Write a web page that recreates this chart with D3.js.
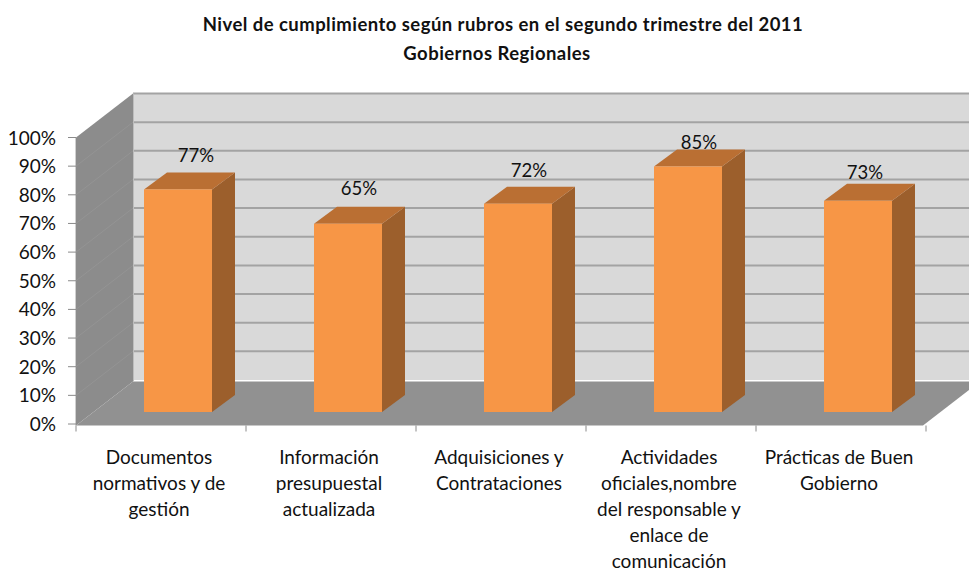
<!DOCTYPE html>
<html>
<head>
<meta charset="utf-8">
<script src="https://cdn.jsdelivr.net/npm/d3@7"></script>
<style>
  html, body { margin: 0; padding: 0; background: #fff; }
  svg { display: block; }
  text { font-family: Lato, "Open Sans", sans-serif; fill: #111; }
</style>
</head>
<body>
<div id="chart"></div>
<script>
const titleLines = ["Nivel de cumplimiento según rubros en el segundo trimestre del 2011", "Gobiernos Regionales"];
const categories = [
    ["Documentos", "normativos y de", "gestión"],
    ["Información", "presupuestal", "actualizada"],
    ["Adquisiciones y", "Contrataciones"],
    ["Actividades", "oficiales,nombre", "del responsable y", "enlace de", "comunicación"],
    ["Prácticas de Buen", "Gobierno"]
];
const values = [77, 65, 72, 85, 73];
const valueTicks = [0, 10, 20, 30, 40, 50, 60, 70, 80, 90, 100];

const width = 969;
const height = 571;

const svg = d3.select("#chart").append("svg")
    .attr("width", width)
    .attr("height", height)
    .attr("viewBox", [0, 0, width, height]);

// front plane of the 3d box
const x = d3.scaleBand()
    .domain(d3.range(categories.length))
    .range([76, 926])
    .paddingInner(0.6)
    .paddingOuter(0.3);
const y = d3.scaleLinear().domain([0, 100]).range([424, 137.5]);

// offset from the front plane to the back wall
const depthX = 57;
const depthY = -44;
// bars stand a bit inside the box
const barShiftX = 17;
const barShiftY = -12;
const barDepthX = 23;
const barDepthY = -17;

const xLeft = x.range()[0];
const xRight = x.range()[1] - 3;
const floorFront = y(0) + 1.5;
const floorBack = y(0) + depthY + 1.5;

// back wall
svg.append("rect")
    .attr("x", xLeft + depthX)
    .attr("y", y(100) + depthY)
    .attr("width", width - xLeft - depthX)
    .attr("height", y(0) - y(100))
    .attr("fill", "#d9d9d9");

// gridlines on the back wall
svg.append("g")
    .selectAll("line")
    .data(valueTicks.slice(1))
    .join("line")
    .attr("x1", xLeft + depthX)
    .attr("x2", width)
    .attr("y1", d => y(d) + depthY)
    .attr("y2", d => y(d) + depthY)
    .attr("stroke", "#a3a3a3")
    .attr("stroke-width", 2);

// left wall
svg.append("path")
    .attr("d", d3.line()([
        [xLeft, y(100)],
        [xLeft + depthX, y(100) + depthY],
        [xLeft + depthX, floorBack],
        [xLeft, floorFront]
    ]) + "Z")
    .attr("fill", "#8c8c8c");

// faint lines going across the left wall
svg.append("g")
    .selectAll("line")
    .data(valueTicks.slice(1, -1))
    .join("line")
    .attr("x1", xLeft)
    .attr("x2", xLeft + depthX)
    .attr("y1", d => y(d))
    .attr("y2", d => y(d) + depthY)
    .attr("stroke", "#949494")
    .attr("stroke-width", 1);

// floor
svg.append("path")
    .attr("d", d3.line()([
        [xLeft, floorFront],
        [xLeft + depthX, floorBack],
        [xRight + depthX, floorBack],
        [xRight, floorFront]
    ]) + "Z")
    .attr("fill", "#919191");

// light edge of the wall
svg.append("line")
    .attr("x1", xLeft + depthX + 0.5)
    .attr("x2", xLeft + depthX + 0.5)
    .attr("y1", y(100) + depthY)
    .attr("y2", floorBack)
    .attr("stroke", "#bdbdbd");

// value axis
svg.append("line")
    .attr("x1", xLeft - 0.5)
    .attr("x2", xLeft - 0.5)
    .attr("y1", y(100))
    .attr("y2", floorFront)
    .attr("stroke", "#d0d0d0");
svg.append("g")
    .selectAll("line")
    .data(valueTicks)
    .join("line")
    .attr("x1", xLeft - 8)
    .attr("x2", xLeft)
    .attr("y1", d => y(d))
    .attr("y2", d => y(d))
    .attr("stroke", "#8a8a8a");
svg.append("g")
    .selectAll("text")
    .data(valueTicks)
    .join("text")
    .attr("x", xLeft - 20)
    .attr("y", d => y(d) + 7)
    .attr("text-anchor", "end")
    .style("font-size", "19px")
    .text(d => d + "%");

// category axis ticks
const step = x.step();
svg.append("g")
    .selectAll("line")
    .data(d3.range(categories.length + 1))
    .join("line")
    .attr("x1", d => xLeft + d * step)
    .attr("x2", d => xLeft + d * step)
    .attr("y1", floorFront)
    .attr("y2", floorFront + 6)
    .attr("stroke", "#8a8a8a");

// bars
const bars = svg.append("g")
    .selectAll("g")
    .data(values)
    .join("g");

const barX = i => x(i) + barShiftX;
const barTop = d => y(d) + barShiftY - 2;
const barBottom = y(0) + barShiftY;

bars.append("path")
    .attr("fill", "#9c5f2c")
    .attr("d", (d, i) => d3.line()([
        [barX(i) + x.bandwidth(), barTop(d)],
        [barX(i) + x.bandwidth() + barDepthX, barTop(d) + barDepthY],
        [barX(i) + x.bandwidth() + barDepthX, barBottom + barDepthY],
        [barX(i) + x.bandwidth(), barBottom]
    ]) + "Z");

bars.append("path")
    .attr("fill", "#ba6f33")
    .attr("d", (d, i) => d3.line()([
        [barX(i), barTop(d)],
        [barX(i) + barDepthX, barTop(d) + barDepthY],
        [barX(i) + x.bandwidth() + barDepthX, barTop(d) + barDepthY],
        [barX(i) + x.bandwidth(), barTop(d)]
    ]) + "Z");

bars.append("rect")
    .attr("x", (d, i) => barX(i))
    .attr("y", d => barTop(d))
    .attr("width", x.bandwidth())
    .attr("height", d => barBottom - barTop(d))
    .attr("fill", "#f79646");

// value labels, these were moved by hand in the original
const labelNudgeX = [18, 11, 11, 11, 7];
const labelNudgeY = [-27, -29, -27, -17, -22];
bars.append("text")
    .attr("x", (d, i) => barX(i) + x.bandwidth() / 2 + labelNudgeX[i])
    .attr("y", (d, i) => barTop(d) + labelNudgeY[i])
    .attr("text-anchor", "middle")
    .style("font-size", "18.5px")
    .text(d => d + "%");

// category labels
svg.append("g")
    .selectAll("text")
    .data(categories)
    .join("text")
    .attr("text-anchor", "middle")
    .style("font-size", "19px")
    .each(function (lines, i) {
        d3.select(this).selectAll("tspan")
            .data(lines)
            .join("tspan")
            .attr("x", xLeft + (i + 0.5) * step - 2)
            .attr("y", (d, j) => 464 + j * 26)
            .text(d => d);
    });

// title
svg.append("g")
    .selectAll("text")
    .data(titleLines)
    .join("text")
    .attr("x", (d, i) => 503 - i * 6)
    .attr("y", (d, i) => 31 + i * 28.5)
    .attr("text-anchor", "middle")
    .style("font-size", "18.5px")
    .style("font-weight", "bold")
    .style("letter-spacing", "0.45px")
    .text(d => d);
</script>
</body>
</html>
